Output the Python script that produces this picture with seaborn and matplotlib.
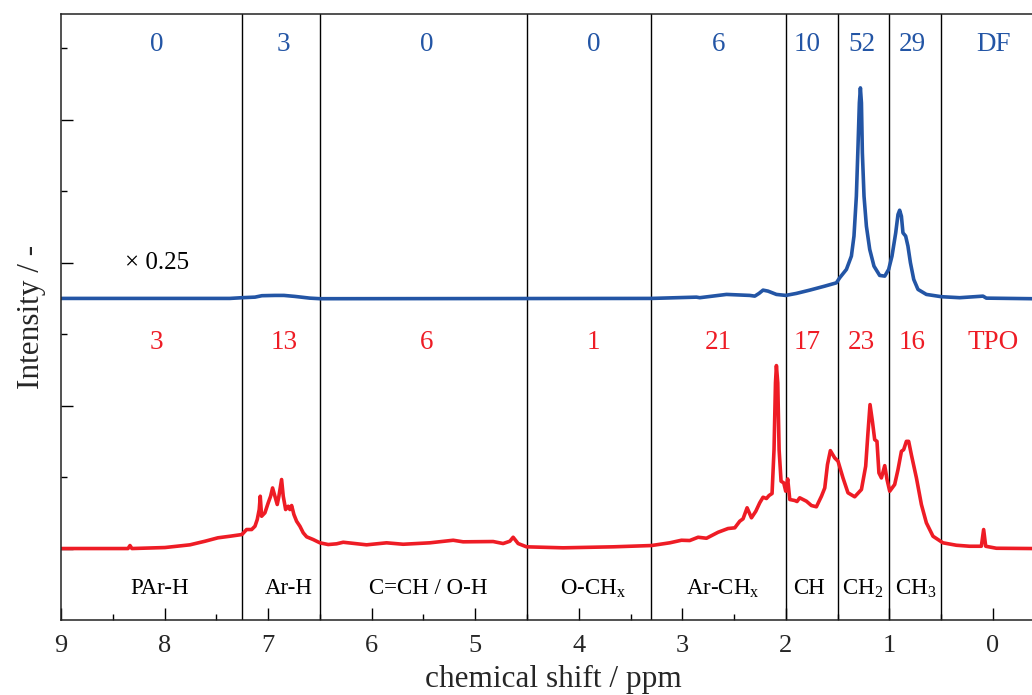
import numpy as np
import pandas as pd
import matplotlib
matplotlib.use("Agg")
import matplotlib.pyplot as plt
import seaborn as sns

# ---------------- data ----------------
# TPO spectrum (ppm, intensity)
tpo_ppm = [9.000, 8.353, 8.334, 8.315, 7.996, 7.755, 7.610, 7.485, 7.369, 7.253,
           7.208, 7.159, 7.127, 7.105, 7.086, 7.076, 7.063, 7.031, 6.999, 6.976,
           6.957, 6.934, 6.912, 6.896, 6.870, 6.854, 6.831, 6.806, 6.790, 6.773,
           6.751, 6.725, 6.693, 6.661, 6.628, 6.565, 6.500, 6.420, 6.339, 6.275,
           6.049, 5.856, 5.696, 5.438, 5.213, 5.117, 4.827, 4.731, 4.666, 4.634,
           4.586, 4.505, 4.152, 3.669, 3.298, 3.122, 3.009, 2.929, 2.848, 2.767,
           2.655, 2.559, 2.494, 2.446, 2.414, 2.375, 2.333, 2.291, 2.253, 2.221,
           2.188, 2.163, 2.134, 2.115, 2.101, 2.092, 2.079, 2.066, 2.047, 2.021,
           2.002, 1.983, 1.963, 1.915, 1.893, 1.867, 1.802, 1.754, 1.706, 1.657,
           1.625, 1.599, 1.571, 1.529, 1.497, 1.449, 1.401, 1.336, 1.271, 1.230,
           1.208, 1.188, 1.165, 1.143, 1.121, 1.102, 1.078, 1.046, 1.024, 0.998,
           0.950, 0.918, 0.885, 0.863, 0.837, 0.815, 0.789, 0.740, 0.692, 0.644,
           0.580, 0.484, 0.354, 0.226, 0.113, 0.091, 0.071, -0.032, -0.376]
tpo_int = [0.000, 0.000, 0.021, 0.000, 0.007, 0.026, 0.051, 0.075, 0.086, 0.098,
           0.133, 0.133, 0.156, 0.203, 0.273, 0.366, 0.226, 0.250, 0.320, 0.366,
           0.424, 0.366, 0.308, 0.366, 0.483, 0.366, 0.273, 0.296, 0.273, 0.301,
           0.238, 0.191, 0.156, 0.110, 0.082, 0.063, 0.040, 0.028, 0.033, 0.044,
           0.026, 0.040, 0.030, 0.040, 0.058, 0.047, 0.049, 0.035, 0.051, 0.079,
           0.035, 0.012, 0.005, 0.012, 0.021, 0.040, 0.058, 0.056, 0.079, 0.072,
           0.114, 0.140, 0.145, 0.191, 0.208, 0.285, 0.215, 0.261, 0.320, 0.359,
           0.350, 0.371, 0.385, 0.692, 1.159, 1.280, 1.159, 0.692, 0.471, 0.459,
           0.401, 0.487, 0.343, 0.336, 0.329, 0.355, 0.331, 0.301, 0.292, 0.366,
           0.424, 0.587, 0.685, 0.634, 0.611, 0.494, 0.390, 0.362, 0.413, 0.576,
           0.809, 1.007, 0.890, 0.762, 0.750, 0.529, 0.494, 0.580, 0.483, 0.401,
           0.448, 0.552, 0.680, 0.692, 0.750, 0.750, 0.657, 0.494, 0.308, 0.180,
           0.086, 0.040, 0.023, 0.016, 0.016, 0.133, 0.016, 0.002, 0.000]

# DF spectrum (ppm, intensity already scaled x0.25)
df_ppm = [9.000, 7.369, 7.253, 7.127, 7.060, 6.934, 6.847, 6.741, 6.597, 6.500,
          3.298, 2.864, 2.832, 2.574, 2.349, 2.301, 2.260, 2.221, 2.173, 2.092,
          2.002, 1.899, 1.770, 1.625, 1.513, 1.481, 1.416, 1.368, 1.343, 1.320,
          1.304, 1.291, 1.281, 1.271, 1.262, 1.246, 1.223, 1.191, 1.150, 1.095,
          1.046, 1.008, 0.976, 0.940, 0.918, 0.902, 0.885, 0.870, 0.844, 0.822,
          0.798, 0.766, 0.725, 0.644, 0.499, 0.322, 0.097, 0.065, -0.376]
df_int = [0.000, 0.000, 0.005, 0.009, 0.019, 0.021, 0.021, 0.014, 0.002, -0.002,
          0.000, 0.009, 0.005, 0.028, 0.021, 0.016, 0.035, 0.058, 0.051, 0.028,
          0.021, 0.035, 0.058, 0.086, 0.109, 0.144, 0.203, 0.296, 0.436, 0.715,
          1.065, 1.368, 1.473, 1.368, 1.019, 0.715, 0.505, 0.343, 0.226, 0.161,
          0.156, 0.203, 0.296, 0.459, 0.587, 0.617, 0.575, 0.459, 0.436, 0.366,
          0.250, 0.133, 0.063, 0.028, 0.012, 0.005, 0.016, 0.002, -0.002]
df_offset = 1.75

# region boundaries (ppm) and labels
boundaries = [7.25, 6.5, 4.5, 3.3, 2.0, 1.5, 1.0, 0.5]
groups = ["PAr-H", "Ar-H", "C=CH / O-H", "O-CH$_\\mathregular{x}$",
          "Ar-CH$_\\mathregular{x}$", "CH", "CH$_\\mathregular{2}$", "CH$_\\mathregular{3}$"]
df_values = ["0", "3", "0", "0", "6", "10", "52", "29", "DF"]
tpo_values = ["3", "13", "6", "1", "21", "17", "23", "16", "TPO"]

# ---------------- style ----------------
sns.set_theme(style="ticks")
FONT = ["Liberation Serif", "DejaVu Serif"]
plt.rcParams["font.family"] = FONT
plt.rcParams["mathtext.fontset"] = "custom"
plt.rcParams["mathtext.rm"] = "Liberation Serif"

BLUE = "#2355a5"
RED = "#ee1c25"

# label placement (layout)
value_pos = [8.08, 6.85, 5.47, 3.86, 2.65, 1.80, 1.27, 0.78, 0.0]
group_pos = [8.05, 6.80, 5.45, 3.86, 2.61, 1.78, 1.26, 0.75]

fig = plt.figure(figsize=(10.32, 6.95), dpi=100)
ax = fig.add_axes([61 / 1032, 75 / 695, 971 / 1032, 606 / 695])

sns.lineplot(x=tpo_ppm, y=tpo_int, ax=ax, color=RED, lw=2.6,
             estimator=None, sort=False)
sns.lineplot(x=df_ppm, y=np.array(df_int) + df_offset, ax=ax, color=BLUE, lw=2.6,
             estimator=None, sort=False)

for b in boundaries:
    ax.axvline(b, color="black", lw=1.0, zorder=1)

for p, dv, tv in zip(value_pos, df_values, tpo_values):
    ax.text(p, 3.53, dv, color=BLUE, ha="center", va="center", fontsize=19.5)
    ax.text(p, 1.445, tv, color=RED, ha="center", va="center", fontsize=19.5)
for p, g in zip(group_pos, groups):
    ax.text(p, -0.28, g, color="black", ha="center", va="center", fontsize=16.5)

ax.text(8.07, 2.0, "× 0.25", color="black", ha="center", va="center", fontsize=18)

ax.set_xlim(9, -0.376)
ax.set_ylim(-0.5, 3.74)
ax.set_xticks([9, 8, 7, 6, 5, 4, 3, 2, 1, 0])
ax.set_xticks(np.arange(-0.0, 9.0, 0.5) + 0.5, minor=True)
ax.set_yticks([0, 1, 2, 3])
ax.set_yticks([0.5, 1.5, 2.5, 3.5], minor=True)
ax.set_yticklabels([])
ax.tick_params(axis="both", which="both", direction="in", color="black")
ax.tick_params(axis="x", which="major", length=8.5, width=1.0, labelsize=19, pad=10.5)
ax.tick_params(axis="x", which="minor", length=4, width=1.0)
ax.tick_params(axis="y", which="major", length=8.5, width=1.0)
ax.tick_params(axis="y", which="minor", length=4.5, width=1.0)
for s in ["left", "bottom", "top"]:
    ax.spines[s].set_linewidth(1.1)
    ax.spines[s].set_color("#222222")
ax.spines["right"].set_visible(False)

ax.set_xlabel("chemical shift / ppm", fontsize=22.5)
ax.xaxis.set_label_coords(0.507, -0.075)
ax.set_ylabel("Intensity / -", fontsize=22.5, labelpad=7)

fig.savefig("out.png", dpi=100)
